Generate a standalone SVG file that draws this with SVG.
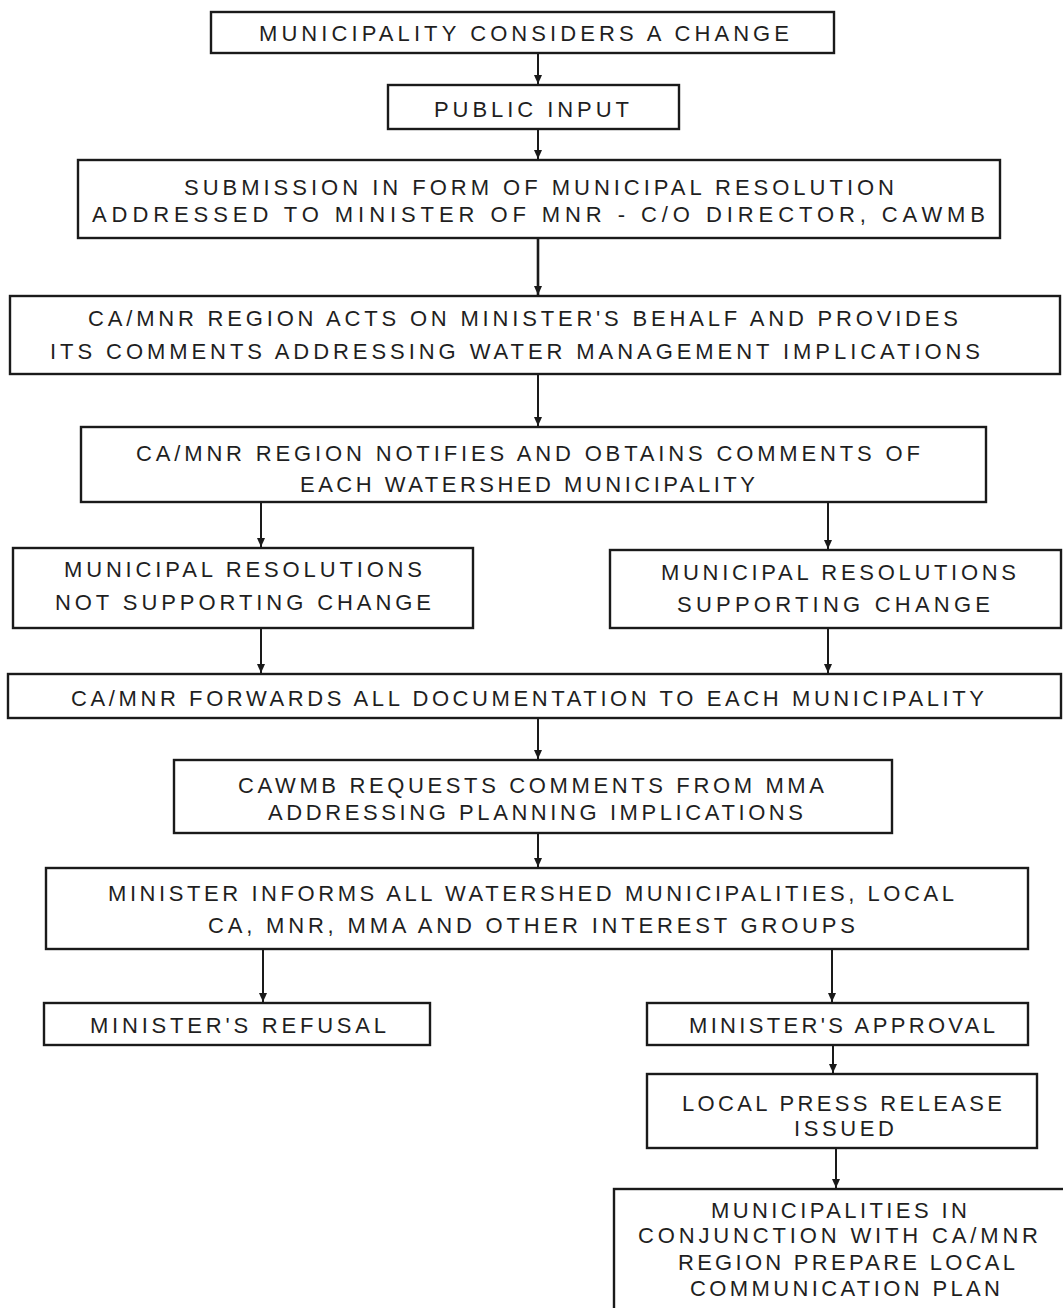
<svg xmlns="http://www.w3.org/2000/svg" width="1063" height="1308" viewBox="0 0 1063 1308">
<style>
.box{fill:#fff;stroke:#1a1a1a;stroke-width:2.4}
.t{font-family:"Liberation Sans",Arial,sans-serif;font-size:22px;fill:#1f1f1f;text-anchor:start}
.c{stroke:#1a1a1a;stroke-width:2;fill:none;marker-end:url(#ah)}
</style>
<defs>
<marker id="ah" markerUnits="userSpaceOnUse" markerWidth="9" markerHeight="8" viewBox="0 0 9 8" refX="9" refY="4" orient="auto">
<path d="M0,0 L9,4 L0,8 Z" fill="#1a1a1a"/>
</marker>
</defs>
<rect width="1063" height="1308" fill="#fff"/>
<g id="connectors">
<path class="c" d="M538,53 V84"/>
<path class="c" d="M538,129 V159"/>
<path class="c" d="M538,238 V295" style="stroke-width:2.6"/>
<path class="c" d="M538,374 V426"/>
<path class="c" d="M261,502 V547"/>
<path class="c" d="M828,502 V549"/>
<path class="c" d="M261,628 V673"/>
<path class="c" d="M828,628 V673"/>
<path class="c" d="M538,718 V759"/>
<path class="c" d="M538,833 V867"/>
<path class="c" d="M263,949 V1002"/>
<path class="c" d="M832,949 V1002"/>
<path class="c" d="M833,1045 V1073"/>
<path class="c" d="M836,1148 V1188"/>
</g>
<g id="n1"><rect class="box" x="211" y="12" width="623" height="41"/>
<text class="t" x="259" y="41" textLength="530">MUNICIPALITY CONSIDERS A CHANGE</text></g>
<g id="n2"><rect class="box" x="388" y="85" width="291" height="44"/>
<text class="t" x="434" y="117" textLength="195">PUBLIC INPUT</text></g>
<g id="n3"><rect class="box" x="78" y="160" width="922" height="78"/>
<text class="t" x="184" y="195" textLength="710">SUBMISSION IN FORM OF MUNICIPAL RESOLUTION</text>
<text class="t" x="92" y="222" textLength="893">ADDRESSED TO MINISTER OF MNR - C/O DIRECTOR, CAWMB</text></g>
<g id="n4"><rect class="box" x="10" y="296" width="1050" height="78"/>
<text class="t" x="88" y="326" textLength="870">CA/MNR REGION ACTS ON MINISTER'S BEHALF AND PROVIDES</text>
<text class="t" x="50" y="359" textLength="930">ITS COMMENTS ADDRESSING WATER MANAGEMENT IMPLICATIONS</text></g>
<g id="n5"><rect class="box" x="81" y="427" width="905" height="75"/>
<text class="t" x="136" y="461" textLength="784">CA/MNR REGION NOTIFIES AND OBTAINS COMMENTS OF</text>
<text class="t" x="300" y="492" textLength="455">EACH WATERSHED MUNICIPALITY</text></g>
<g id="n6a"><rect class="box" x="13" y="548" width="460" height="80"/>
<text class="t" x="64" y="577" textLength="358">MUNICIPAL RESOLUTIONS</text>
<text class="t" x="55" y="610" textLength="376">NOT SUPPORTING CHANGE</text></g>
<g id="n6b"><rect class="box" x="610" y="550" width="451" height="78"/>
<text class="t" x="661" y="580" textLength="355">MUNICIPAL RESOLUTIONS</text>
<text class="t" x="677" y="612" textLength="313">SUPPORTING CHANGE</text></g>
<g id="n7"><rect class="box" x="8" y="674" width="1053" height="44"/>
<text class="t" x="71" y="706" textLength="913">CA/MNR FORWARDS ALL DOCUMENTATION TO EACH MUNICIPALITY</text></g>
<g id="n8"><rect class="box" x="174" y="760" width="718" height="73"/>
<text class="t" x="238" y="793" textLength="586">CAWMB REQUESTS COMMENTS FROM MMA</text>
<text class="t" x="268" y="820" textLength="535">ADDRESSING PLANNING IMPLICATIONS</text></g>
<g id="n9"><rect class="box" x="46" y="868" width="982" height="81"/>
<text class="t" x="108" y="901" textLength="846">MINISTER INFORMS ALL WATERSHED MUNICIPALITIES, LOCAL</text>
<text class="t" x="208" y="933" textLength="647">CA, MNR, MMA AND OTHER INTEREST GROUPS</text></g>
<g id="n10a"><rect class="box" x="44" y="1003" width="386" height="42"/>
<text class="t" x="90" y="1033" textLength="296">MINISTER'S REFUSAL</text></g>
<g id="n10b"><rect class="box" x="647" y="1003" width="381" height="42"/>
<text class="t" x="689" y="1033" textLength="306">MINISTER'S APPROVAL</text></g>
<g id="n11"><rect class="box" x="647" y="1074" width="390" height="74"/>
<text class="t" x="682" y="1111" textLength="320">LOCAL PRESS RELEASE</text>
<text class="t" x="794" y="1136" textLength="100">ISSUED</text></g>
<g id="n12"><rect class="box" x="614" y="1189" width="470" height="140"/>
<text class="t" x="711" y="1218" textLength="256">MUNICIPALITIES IN</text>
<text class="t" x="638" y="1243" textLength="400">CONJUNCTION WITH CA/MNR</text>
<text class="t" x="678" y="1270" textLength="337">REGION PREPARE LOCAL</text>
<text class="t" x="690" y="1296" textLength="310">COMMUNICATION PLAN</text></g>
</svg>
